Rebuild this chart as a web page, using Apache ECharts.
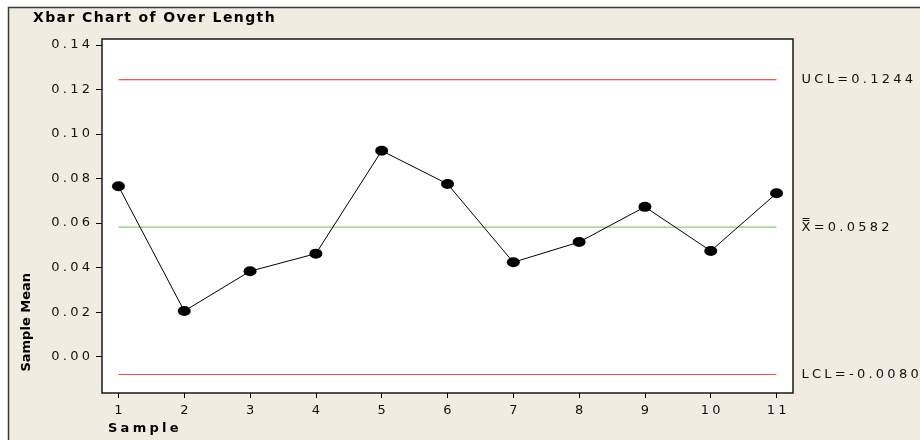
<!DOCTYPE html>
<html>
<head>
<meta charset="utf-8">
<script src="https://cdn.jsdelivr.net/npm/echarts@6/dist/echarts.min.js"></script>
<style>
  html, body { margin: 0; padding: 0; background: #ffffff; }
  #chart { width: 920px; height: 440px; }
</style>
</head>
<body>
<div id="chart"></div>
<script>
// Xbar control chart: subgroup means with centre line and control limits
const samples = [1, 2, 3, 4, 5, 6, 7, 8, 9, 10, 11];
const sampleMeans = [0.0766, 0.0205, 0.0384, 0.0463, 0.0925, 0.0776, 0.0424, 0.0515, 0.0673, 0.0475, 0.0734];
const UCL = 0.1244;
const CENTER = 0.0582;
const LCL = -0.0080;
const yTicks = [0.00, 0.02, 0.04, 0.06, 0.08, 0.10, 0.12, 0.14];
const xTicks = samples;

const SP = '\u2005';          // letter spacing for axis and limit labels
const SP_T = '\u200A';        // letter spacing for the title
const spaced = (s, sp = SP) => Array.from(s).join(sp);

const chart = echarts.init(document.getElementById('chart'), null, { renderer: 'canvas' });
const FONT = '"DejaVu Sans", Verdana, sans-serif';

// control line from the first to the last sample, labelled at its right end
const limitSeries = (val, color, text) => ({
  type: 'line', silent: true, z: 3,
  data: [[samples[0], val], [samples[samples.length - 1], val]],
  symbol: 'none',
  color: color,
  lineStyle: { color: color, width: 1.2, type: 'solid' },
  emphasis: { disabled: true },
  endLabel: { show: true, distance: 25, formatter: () => text,
              color: '#111', fontFamily: FONT, fontSize: 13 }
});

const title = ['Xbar', 'Chart', 'of', 'Over', 'Length'].map(w => spaced(w, SP_T)).join(SP_T + ' ' + SP_T);

chart.setOption({
  animation: false,
  backgroundColor: '#ffffff',
  graphic: [
    { type: 'rect', z: -10, silent: true,
      shape: { x: 8.5, y: 7.5, width: 930, height: 450 },
      style: { fill: '#F0ECE2', stroke: '#3a3a3a', lineWidth: 1.5 } },
    { type: 'text', left: 33, top: 11,
      style: { text: title, font: 'bold 14px ' + FONT, fill: '#000' } },
    { type: 'text', left: 20, top: 273, rotation: Math.PI / 2,
      style: { text: 'Sample Mean', font: 'bold 13px ' + FONT, fill: '#000' } },
    { type: 'text', left: 108, top: 422,
      style: { text: spaced('Sample'), font: 'bold 13px ' + FONT, fill: '#000' } }
  ],
  grid: {
    left: 102, top: 39, right: 127, bottom: 47,
    show: true, backgroundColor: '#ffffff', borderColor: '#1a1a1a', borderWidth: 1.5
  },
  xAxis: {
    type: 'value', min: 0.75, max: 11.25,
    axisLine: { show: false, onZero: false },
    splitLine: { show: false },
    axisTick: { show: true, length: 5, lineStyle: { color: '#000' }, customValues: xTicks },
    axisLabel: { customValues: xTicks, formatter: v => spaced(String(v)), margin: 11,
                 fontFamily: FONT, fontSize: 13, color: '#111' }
  },
  yAxis: {
    type: 'value', min: -0.0163, max: 0.1427,
    axisLine: { show: false, onZero: false },
    splitLine: { show: false },
    axisTick: { show: true, length: 6, lineStyle: { color: '#000' }, customValues: yTicks },
    axisLabel: { customValues: yTicks, formatter: v => spaced(v.toFixed(2)), margin: 12,
                 fontFamily: FONT, fontSize: 13, color: '#111' }
  },
  series: [
    limitSeries(UCL, '#E8242A', spaced('UCL=' + UCL.toFixed(4))),
    limitSeries(CENTER, '#8DC877', 'X\u033F' + SP + spaced('=' + CENTER.toFixed(4))),
    limitSeries(LCL, '#EE4A52', spaced('LCL=' + LCL.toFixed(4))),
    {
      type: 'line',
      data: samples.map((s, i) => [s, sampleMeans[i]]),
      symbol: 'circle', symbolSize: [13, 10],
      itemStyle: { color: '#000' },
      lineStyle: { color: '#000', width: 1 },
      z: 5
    }
  ]
});
</script>
</body>
</html>
